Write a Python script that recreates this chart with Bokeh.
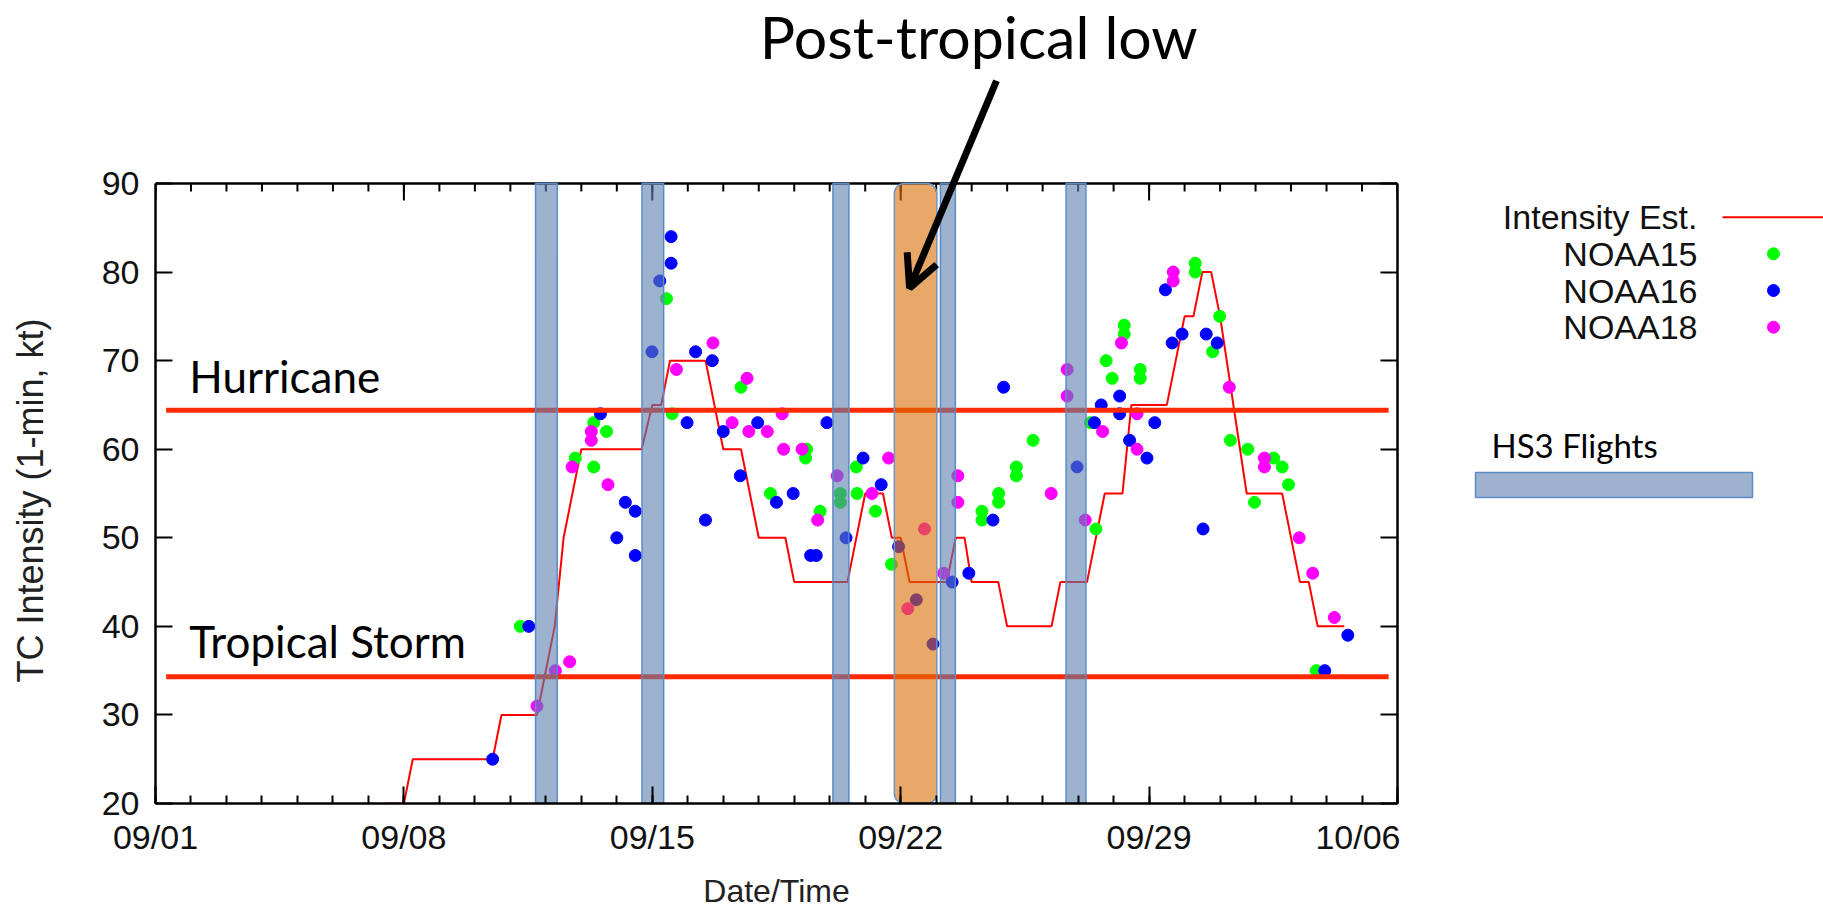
import math
from bokeh.plotting import figure
from bokeh.models import Range1d, FixedTicker, LinearAxis, Label, Arrow, OpenHead
from bokeh.layouts import row
from bokeh.embed import file_html
from bokeh.resources import INLINE
from bokeh.core.properties import value

# ---------------- data (days since 09/01 00Z) ----------------
tick_days = [0, 7, 14, 21, 28, 35]
tick_labels = ["09/01", "09/08", "09/15", "09/22", "09/29", "10/06"]
minor_days = list(range(0, 36))
y_ticks = [20, 30, 40, 50, 60, 70, 80, 90]

track_day = [6.5, 7.0, 7.25, 9.5, 9.75, 10.75, 11.25, 11.5, 12.0, 13.7, 14.0, 14.25, 14.5,
             15.5, 16.0, 16.5, 17.0, 17.75, 18.0, 19.5, 20.0, 20.5, 20.75, 21.0, 21.25,
             22.3, 22.55, 22.8, 23.0, 23.75, 24.0, 25.25, 25.5, 26.25, 26.75, 27.25, 27.5,
             28.5, 29.0, 29.25, 29.5, 29.75, 30.0, 30.75, 31.75, 32.25, 32.5, 32.75, 33.5]
track_kt = [20, 20, 25, 25, 30, 30, 40, 50, 60, 60, 65, 65, 70,
            70, 60, 60, 50, 50, 45, 45, 55, 55, 50, 50, 45,
            45, 50, 50, 45, 45, 40, 40, 45, 45, 55, 55, 65,
            65, 75, 75, 80, 80, 75, 55, 55, 45, 45, 40, 40]

n15_day = [10.28, 11.83, 12.35, 12.71, 12.35, 14.40, 14.56, 16.5, 17.33, 18.32, 18.35, 18.73,
           19.3, 19.3, 19.77, 19.75, 20.29, 20.74, 23.29, 23.29, 23.76, 23.76, 24.26, 24.26,
           24.73, 26.35, 26.5, 26.79, 26.96, 27.3, 27.3, 27.75, 27.75, 29.3, 29.3, 29.79,
           29.99, 30.29, 30.78, 30.97, 31.51, 31.75, 31.93, 32.71]
n15_kt = [40, 59, 63, 62, 58, 77, 64, 67, 55, 59, 60, 53,
          55, 54, 55, 58, 53, 47, 53, 52, 55, 54, 58, 57,
          61, 63, 51, 70, 68, 74, 73, 69, 68, 81, 80, 71,
          75, 61, 60, 54, 59, 58, 56, 35]

n16_day = [9.5, 10.52, 12.54, 13.0, 13.24, 13.52, 13.52, 13.99, 14.21, 14.53, 14.53, 14.98,
           15.22, 15.5, 15.69, 16.0, 16.48, 16.97, 17.5, 17.97, 18.46, 18.62, 18.92, 19.46,
           19.94, 20.45, 20.94, 21.44, 21.91, 22.45, 22.92, 23.6, 23.9, 25.97, 26.46, 26.65,
           27.17, 27.17, 27.45, 27.94, 28.16, 28.46, 28.65, 28.93, 29.52, 29.61, 29.92, 32.95, 33.6]
n16_kt = [25, 40, 64, 50, 54, 53, 48, 71, 79, 84, 81, 63,
          71, 52, 70, 62, 57, 63, 54, 55, 48, 48, 63, 50,
          59, 56, 49, 43, 38, 45, 46, 52, 67, 58, 63, 65,
          66, 64, 61, 59, 63, 78, 72, 73, 51, 73, 72, 35, 39]

n18_day = [10.75, 11.27, 11.67, 11.74, 12.28, 12.28, 12.75, 14.68, 15.71, 16.25, 16.67, 16.72,
           17.24, 17.66, 17.7, 18.22, 18.66, 19.21, 20.19, 20.66, 21.2, 21.67, 22.21, 22.61,
           22.61, 25.24, 25.69, 25.69, 26.2, 26.69, 27.22, 27.66, 27.66, 28.68, 28.68, 30.26,
           31.25, 31.25, 32.23, 32.61, 33.22]
n18_kt = [31, 35, 36, 58, 62, 61, 56, 69, 72, 63, 68, 62,
          62, 64, 60, 60, 52, 57, 55, 59, 42, 51, 46, 57,
          54, 55, 69, 66, 52, 62, 72, 64, 60, 80, 79, 67,
          59, 58, 50, 46, 41]

flight_start = [10.71, 13.71, 19.09, 22.12, 25.66]
flight_end = [11.32, 14.32, 19.54, 22.54, 26.22]
ptl_start = [20.82]
ptl_end = [22.02]

threshold_kt = [64.4, 34.3]
threshold_names = ["Hurricane", "Tropical Storm"]

legend_labels = ["Intensity Est.", "NOAA15", "NOAA16", "NOAA18"]
sat_colors = ["#00ff00", "#0000ff", "#ff00ff"]

# ---------------- layout constants ----------------
AX_FONT = "Liberation Sans"
NOTE_FONT = "Lato"
H = 911
YLAB_W, MAIN_W, LEGEND_W = 60, 1340, 423
LEFT, RIGHT_MAIN, BOTTOM = 95, 3, 108
BOX_TOP_PX = 183                      # page y of the 90 kt line
FRAME_H = H - BOTTOM                  # frame runs from the page top to the x axis
KT_PER_PX = (y_ticks[-1] - y_ticks[0]) / (FRAME_H - BOX_TOP_PX)
y_lo, y_hi = y_ticks[0], y_ticks[0] + FRAME_H * KT_PER_PX

# ---------------- y-axis title strip (page pixel coordinates) ----------------
ylab = figure(width=YLAB_W, height=H, x_range=Range1d(0, YLAB_W), y_range=Range1d(H, 0),
              output_backend="svg", toolbar_location=None,
              x_axis_location=None, y_axis_location=None, min_border=0, frame_align=False)
ylab.grid.visible = False
ylab.outline_line_color = None
ylab.text(x=[30], y=[500], text=["TC Intensity (1-min, kt)"], angle=math.pi / 2,
          text_align="center", text_baseline="middle", text_font=value(AX_FONT),
          text_font_size="36px", text_color="#222222")

# ---------------- main plot ----------------
p = figure(width=MAIN_W, height=H, x_range=Range1d(tick_days[0], tick_days[-1]),
           y_range=Range1d(y_lo, y_hi),
           output_backend="svg", toolbar_location=None,
           min_border_left=LEFT, min_border_right=RIGHT_MAIN, min_border_top=0,
           min_border_bottom=BOTTOM, frame_align=False,
           x_axis_label="Date/Time")
p.grid.visible = False
p.outline_line_color = None

xt = FixedTicker(ticks=tick_days, minor_ticks=minor_days)
yt = FixedTicker(ticks=y_ticks, minor_ticks=[])


def style_axis(ax):
    ax.axis_line_color = "black"
    ax.axis_line_width = 2.5
    ax.major_tick_in = 17
    ax.major_tick_out = 0
    ax.minor_tick_in = 8
    ax.minor_tick_out = 0
    ax.major_tick_line_width = 2
    ax.minor_tick_line_width = 2
    ax.major_tick_line_color = "black"
    ax.minor_tick_line_color = "black"
    ax.major_label_text_font = AX_FONT
    ax.major_label_text_font_size = "34px"
    ax.major_label_text_color = "#111111"
    ax.axis_label_text_font = AX_FONT
    ax.axis_label_text_font_size = "32px"
    ax.axis_label_text_font_style = "normal"
    ax.axis_label_text_color = "#222222"


xa = p.xaxis[0]
xa.ticker = xt
xa.major_label_overrides = dict(zip(tick_days, tick_labels))
style_axis(xa)
xa.major_label_standoff = 14
xa.axis_label_standoff = 14

ya = p.yaxis[0]
ya.ticker = yt
ya.bounds = (y_ticks[0], y_ticks[-1])
style_axis(ya)
ya.minor_tick_line_color = None
ya.major_label_standoff = 16

right_ax = LinearAxis(ticker=yt, bounds=(y_ticks[0], y_ticks[-1]),
                      major_label_overrides={t: "" for t in y_ticks})
style_axis(right_ax)
right_ax.minor_tick_line_color = None
right_ax.major_label_standoff = 0
right_ax.major_label_text_font_size = "0px"
p.add_layout(right_ax, "right")

# top edge of the plot box with its mirrored ticks
p.hspan(y=[y_ticks[-1]], line_color="black", line_width=2.5)
p.segment(x0=minor_days, y0=[y_ticks[-1]] * len(minor_days), x1=minor_days,
          y1=[y_ticks[-1] - 8 * KT_PER_PX] * len(minor_days), line_color="black", line_width=2)
p.segment(x0=tick_days, y0=[y_ticks[-1]] * len(tick_days), x1=tick_days,
          y1=[y_ticks[-1] - 17 * KT_PER_PX] * len(tick_days), line_color="black", line_width=2)

# intensity estimate and satellite retrievals
p.line(track_day, track_kt, line_color="#ff0000", line_width=2)
p.scatter(n15_day, n15_kt, size=12, fill_color=sat_colors[0], line_color=sat_colors[0])
p.scatter(n16_day, n16_kt, size=12, fill_color=sat_colors[1], line_color=sat_colors[1])
p.scatter(n18_day, n18_kt, size=12, fill_color=sat_colors[2], line_color=sat_colors[2])

# category thresholds
x_lo, x_hi = 0.3, 34.75
p.segment(x0=[x_lo] * len(threshold_kt), y0=threshold_kt,
          x1=[x_hi] * len(threshold_kt), y1=threshold_kt,
          line_color="#ff2a00", line_width=5)

# HS3 flights and post-tropical period
p.quad(left=flight_start, right=flight_end, bottom=y_ticks[0], top=y_ticks[-1],
       fill_color="#5c7faf", fill_alpha=0.6, line_color="#5b8bc6", line_width=1.5)
p.quad(left=ptl_start, right=ptl_end, bottom=y_ticks[0], top=y_ticks[-1], border_radius=10,
       fill_color="#d96e03", fill_alpha=0.6, line_color="#6a96c8", line_width=1.5)

for name, kt, dy in zip(threshold_names, threshold_kt, [3.9, 4.0]):
    p.add_layout(Label(x=0.95, y=kt + dy, text=name, text_font=NOTE_FONT,
                       text_font_size="44px", text_color="black",
                       text_align="left", text_baseline="alphabetic"))

p.text(x=[23.2], y=[106.6], text=["Post-tropical low"], text_align="center",
       text_baseline="alphabetic", text_font=value(NOTE_FONT), text_font_size="59px",
       text_color="black")

arrow_x = [23.7, 21.25]
arrow_y = [101.6, 78.2]
p.add_layout(Arrow(x_start=arrow_x[0], y_start=arrow_y[0], x_end=arrow_x[1], y_end=arrow_y[1],
                   line_width=7, line_color="black",
                   end=OpenHead(size=32, line_width=7, line_color="black")))

# ---------------- legend panel (page pixel coordinates) ----------------
q = figure(width=LEGEND_W, height=H, x_range=Range1d(0, LEGEND_W), y_range=Range1d(H, 0),
           output_backend="svg", toolbar_location=None,
           x_axis_location=None, y_axis_location=None, min_border=0, frame_align=False)
q.grid.visible = False
q.outline_line_color = None

leg_y = [216.7, 253.3, 290.0, 326.7]
q.text(x=[297] * 4, y=leg_y, text=legend_labels, text_align="right", text_baseline="middle",
       text_font=value(AX_FONT), text_font_size="34px", text_color="#111111")
q.segment(x0=[322], y0=[leg_y[0]], x1=[LEGEND_W], y1=[leg_y[0]], line_color="#ff0000", line_width=2)
q.scatter(x=[373] * 3, y=leg_y[1:], size=12, fill_color=sat_colors, line_color=sat_colors)
q.text(x=[91], y=[444], text=["HS3 Flights"], text_align="left", text_baseline="alphabetic",
       text_font=value(NOTE_FONT), text_font_size="33px", text_color="black")
q.quad(left=[75], right=[352], top=[472], bottom=[497],
       fill_color="#5c7faf", fill_alpha=0.6, line_color="#5b8bc6", line_width=1.5)

layout = row(ylab, p, q)
open("out.html", "w").write(file_html(layout, INLINE))
